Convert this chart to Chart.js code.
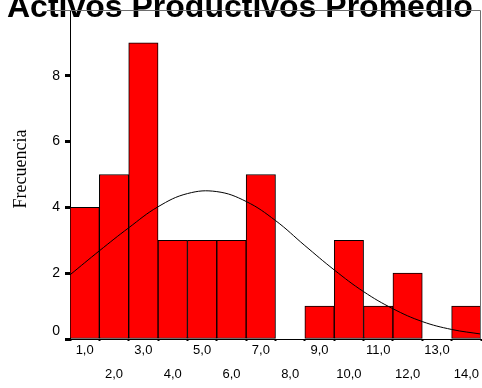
<!DOCTYPE html>
<html>
<head>
<meta charset="utf-8">
<script src="https://cdn.jsdelivr.net/npm/chart.js@4/dist/chart.umd.min.js"></script>
<style>
  html, body { margin: 0; padding: 0; background: #ffffff; }
  #wrap { width: 482px; height: 388px; position: relative; }
</style>
</head>
<body>
<div id="wrap"><canvas id="chart" width="482" height="388"></canvas></div>
<script>
// Histogram of "Activos Productivos Promedio" with its fitted normal curve
const chartTitle = 'Activos Productivos Promedio';
const yAxisTitle = 'Frecuencia';

// Bin centres and their tick labels
const categories = [1, 2, 3, 4, 5, 6, 7, 8, 9, 10, 11, 12, 13, 14];
const tickLabels = ['1,0', '2,0', '3,0', '4,0', '5,0', '6,0', '7,0', '8,0', '9,0', '10,0', '11,0', '12,0', '13,0', '14,0'];

// Frequency per bin
const frequencies = [4, 5, 9, 3, 3, 3, 5, 0, 1, 3, 1, 2, 0, 1];

// Normal curve: x positions and heights
const curveX = [0.5, 1.5, 2.5, 3.5, 4.5, 5.5, 6.5, 7.5, 8.5, 9.5, 10.5, 11.5, 12.5, 13.5, 14.5];
const curveY = [1.95, 2.68, 3.38, 4.02, 4.42, 4.48, 4.18, 3.60, 2.84, 2.10, 1.44, 0.92, 0.53, 0.29, 0.15];

// Y tick values and labels
const yTicks = [0, 2, 4, 6, 8];
const yTickLabels = ['0', '2', '4', '6', '8'];

const sansFamily = '"Liberation Sans", Arial, sans-serif';

// Title (partly above the canvas top), y tick labels, rotated axis title and the gray top/right frame
const framePlugin = {
  id: 'frameAndTitle',
  afterDraw(chart) {
    const ctx = chart.ctx;
    const a = chart.chartArea;
    const yScale = chart.scales.y;
    ctx.save();
    ctx.fillStyle = '#000000';
    ctx.font = 'bold 32px ' + sansFamily;
    ctx.textBaseline = 'alphabetic';
    ctx.textAlign = 'left';
    ctx.fillText(chartTitle, 7, 17);

    // y tick labels, the zero label lifted clear of the x axis
    ctx.font = '14px ' + sansFamily;
    ctx.textAlign = 'right';
    ctx.textBaseline = 'middle';
    yTicks.forEach((v, i) => {
      const py = yScale.getPixelForValue(v) - (v === 0 ? 8 : 0);
      ctx.fillText(yTickLabels[i], 60, py);
    });

    ctx.save();
    ctx.translate(26, 169);
    ctx.rotate(-Math.PI / 2);
    ctx.font = '18px "Liberation Serif", "Times New Roman", serif';
    ctx.textAlign = 'center';
    ctx.textBaseline = 'alphabetic';
    ctx.fillText(yAxisTitle, 0, 0);
    ctx.restore();

    ctx.strokeStyle = '#6e6e6e';
    ctx.lineWidth = 1;
    ctx.beginPath();
    ctx.moveTo(47, a.top + 0.5);
    ctx.lineTo(a.right - 0.5, a.top + 0.5);
    ctx.lineTo(a.right - 0.5, a.bottom);
    ctx.stroke();
    ctx.restore();
  }
};

new Chart(document.getElementById('chart'), {
  data: {
    datasets: [
      {
        type: 'line',
        data: curveX.map((x, i) => ({ x: x, y: curveY[i] })),
        borderColor: '#000000',
        borderWidth: 1,
        pointRadius: 0,
        tension: 0.4,
        fill: false,
        order: 0
      },
      {
        type: 'bar',
        data: categories.map((c, i) => ({ x: c, y: frequencies[i] })),
        backgroundColor: '#ff0000',
        borderColor: '#000000',
        borderWidth: 1,
        borderSkipped: false,
        barPercentage: 1,
        categoryPercentage: 1,
        order: 1
      }
    ]
  },
  options: {
    responsive: false,
    animation: false,
    events: [],
    layout: { padding: { top: 10, right: 1, left: 0, bottom: 0 } },
    plugins: {
      legend: { display: false },
      tooltip: { enabled: false },
      title: { display: false }
    },
    scales: {
      x: {
        type: 'linear',
        offset: false,
        min: 0.5,
        max: 14.5,
        afterBuildTicks: (scale) => { scale.ticks = categories.map(v => ({ value: v })); },
        afterFit: (scale) => { scale.height = 49; },
        ticks: {
          autoSkip: false,
          maxRotation: 0,
          minRotation: 0,
          padding: -3,
          color: '#000000',
          font: { family: sansFamily, size: 13, lineHeight: 24 / 13 },
          callback: (value) => {
            const i = categories.indexOf(value);
            return i % 2 === 0 ? [tickLabels[i]] : ['', tickLabels[i]];
          }
        },
        grid: {
          drawOnChartArea: false,
          drawTicks: true,
          tickLength: 2,
          tickWidth: 2,
          tickColor: '#000000'
        },
        border: { display: true, color: '#000000', width: 1 }
      },
      y: {
        type: 'linear',
        min: 0,
        max: 10,
        afterBuildTicks: (scale) => { scale.ticks = yTicks.map(v => ({ value: v })); },
        afterFit: (scale) => { scale.width = 70; },
        ticks: {
          display: false
        },
        grid: {
          drawOnChartArea: false,
          drawTicks: true,
          tickLength: 5,
          tickWidth: 3,
          tickColor: '#000000'
        },
        border: { display: true, color: '#000000', width: 1 }
      }
    }
  },
  plugins: [framePlugin]
});
</script>
</body>
</html>
